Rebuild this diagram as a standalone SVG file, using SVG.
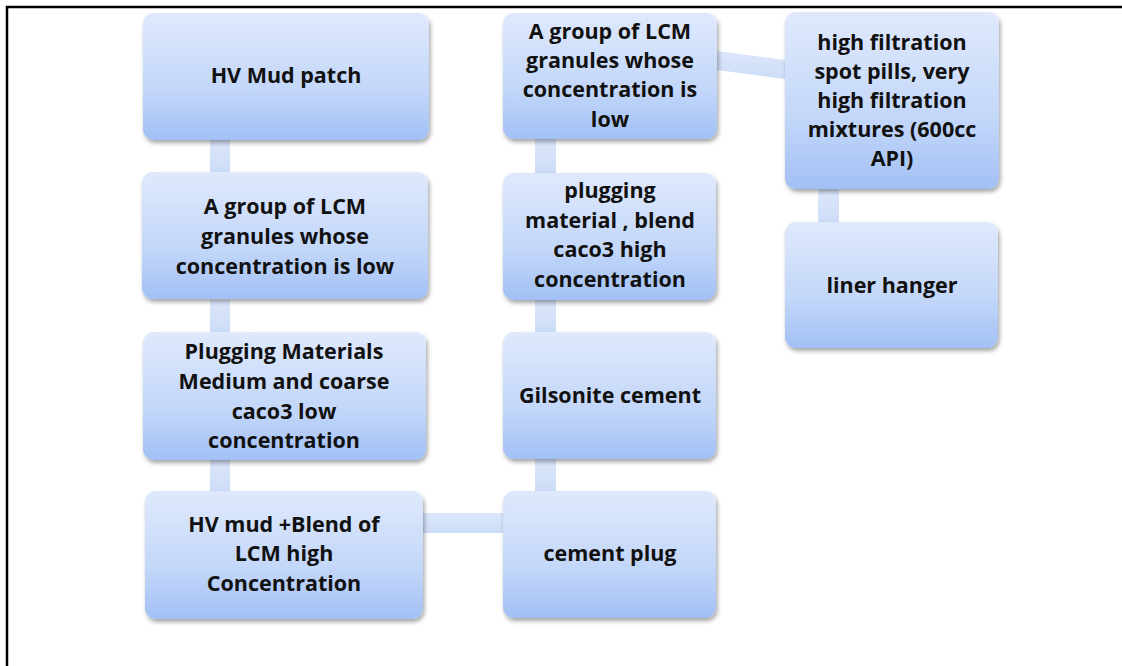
<svg xmlns="http://www.w3.org/2000/svg" width="1122" height="666" viewBox="0 0 1122 666">
<defs>
<linearGradient id="boxg" x1="0" y1="0" x2="0" y2="1">
<stop offset="0" stop-color="#dfe9fc"/>
<stop offset="0.6" stop-color="#c3d7f9"/>
<stop offset="1" stop-color="#a2c0f5"/>
</linearGradient>
<linearGradient id="cong" x1="0" y1="0" x2="0" y2="1">
<stop offset="0" stop-color="#dce7fb"/>
<stop offset="1" stop-color="#cddcf7"/>
</linearGradient>
<filter id="sh" x="-10%" y="-10%" width="125%" height="130%">
<feDropShadow dx="1.5" dy="3" stdDeviation="2.2" flood-color="#000" flood-opacity="0.35"/>
</filter>
</defs>
<style>
.box{fill:url(#boxg);filter:url(#sh);}
.con{fill:url(#cong);}
.t{font-family:"Open Sans","Liberation Sans",sans-serif;font-weight:bold;font-size:21.5px;fill:#111;text-anchor:middle;}
.frame{stroke:#000;stroke-width:2.5;fill:none;}
</style>
<rect width="1122" height="666" fill="#fff"/>
<path class="frame" d="M7,666 V7 H1122"/>
<g id="connectors">
<rect class="con" x="210" y="140" width="20" height="32"/>
<rect class="con" x="210" y="300" width="20" height="32"/>
<rect class="con" x="210" y="460" width="20" height="32"/>
<rect class="con" x="423" y="513" width="80" height="20"/>
<rect class="con" x="535" y="139" width="21" height="34"/>
<rect class="con" x="535" y="300" width="21" height="32"/>
<rect class="con" x="535" y="459" width="21" height="32"/>
<polygon class="con" points="717,51 785,60 785,79 717,70"/>
<rect class="con" x="818" y="189" width="21" height="33"/>
</g>
<g id="n1"><rect class="box" x="143" y="13" width="286" height="127" rx="11"/>
<text class="t" x="286" y="83">HV Mud patch</text></g>
<g id="n2"><rect class="box" x="142" y="172" width="286" height="127" rx="11"/>
<text class="t" x="285" y="214">A group of LCM</text>
<text class="t" x="285" y="244">granules whose</text>
<text class="t" x="285" y="274">concentration is low</text></g>
<g id="n3"><rect class="box" x="143" y="332" width="283" height="128" rx="11"/>
<text class="t" x="284" y="359">Plugging Materials</text>
<text class="t" x="284" y="389">Medium and coarse</text>
<text class="t" x="284" y="419">caco3 low</text>
<text class="t" x="284" y="448">concentration</text></g>
<g id="n4"><rect class="box" x="145" y="491" width="278" height="128" rx="11"/>
<text class="t" x="284" y="532">HV mud +Blend of</text>
<text class="t" x="284" y="561">LCM high</text>
<text class="t" x="284" y="591">Concentration</text></g>
<g id="n5"><rect class="box" x="503" y="13" width="214" height="126" rx="11"/>
<text class="t" x="610" y="39">A group of LCM</text>
<text class="t" x="610" y="68">granules whose</text>
<text class="t" x="610" y="97">concentration is</text>
<text class="t" x="610" y="127">low</text></g>
<g id="n6"><rect class="box" x="503" y="173" width="213" height="127" rx="11"/>
<text class="t" x="610" y="198">plugging</text>
<text class="t" x="610" y="228">material , blend</text>
<text class="t" x="610" y="257">caco3 high</text>
<text class="t" x="610" y="287">concentration</text></g>
<g id="n7"><rect class="box" x="503" y="332" width="213" height="127" rx="11"/>
<text class="t" x="610" y="403">Gilsonite cement</text></g>
<g id="n8"><rect class="box" x="503" y="491" width="213" height="127" rx="11"/>
<text class="t" x="610" y="561">cement plug</text></g>
<g id="n9"><rect class="box" x="785" y="12" width="214" height="177" rx="11"/>
<text class="t" x="892" y="50">high filtration</text>
<text class="t" x="892" y="79">spot pills, very</text>
<text class="t" x="892" y="108">high filtration</text>
<text class="t" x="892" y="137">mixtures (600cc</text>
<text class="t" x="892" y="166">API)</text></g>
<g id="n10"><rect class="box" x="785" y="222" width="213" height="126" rx="11"/>
<text class="t" x="892" y="293">liner hanger</text></g>
</svg>
